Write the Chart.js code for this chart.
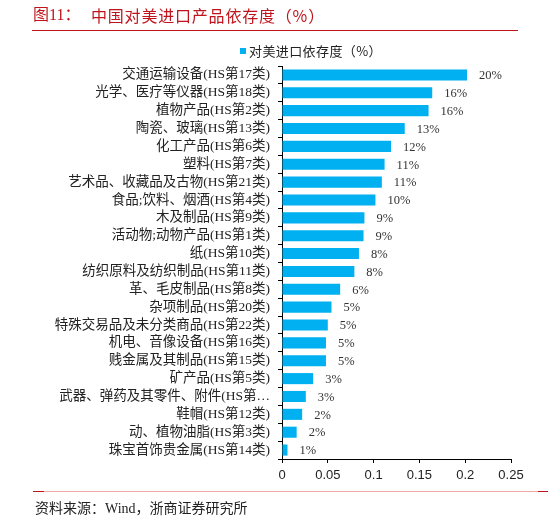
<!DOCTYPE html>
<html>
<head>
<meta charset="utf-8">
<script src="https://cdn.jsdelivr.net/npm/chart.js@4.4.0/dist/chart.umd.min.js"></script>
<style>
  html, body { margin:0; padding:0; background:#fff; }
  #wrap { position:relative; width:548px; height:522px; overflow:hidden; }
  canvas { position:absolute; left:0; top:0; }
  .abs { position:absolute; white-space:nowrap; }
  #t1 { left:33px; top:4px; font:16px "Liberation Serif","Noto Sans CJK SC"; color:#C0141C; line-height:22px; }
  #t2 { left:91px; top:4px; font:16px "Noto Sans CJK SC"; color:#C0141C; line-height:22px; letter-spacing:0.8px; }
  #topline { left:32px; top:30px; width:486px; height:1px; background:#C0141C; }
  #botline { left:33px; top:491px; width:515px; height:1px; background:#F0A8A8; }
  #botl1 { left:33px; top:491px; width:11px; height:1px; background:#C0141C; }
  #botl2 { left:538px; top:491px; width:10px; height:1px; background:#C0141C; }
  #src { left:35px; top:499px; font:14px "Liberation Serif","Noto Sans CJK SC"; color:#222; line-height:20px; }
  #lg { left:240px; top:42px; font:13px "Noto Sans CJK SC"; color:#222; line-height:18px; letter-spacing:0.4px; }
  #lgbox { display:inline-block; width:6px; height:6px; background:#00B0F0; margin-right:3px; vertical-align:middle; position:relative; top:-1px; }
</style>
</head>
<body>
<div id="wrap">
  <canvas id="c" width="548" height="522"></canvas>
  <div class="abs" id="t1">图11：</div>
  <div class="abs" id="t2">中国对美进口产品依存度（%）</div>
  <div class="abs" id="topline"></div>
  <div class="abs" id="lg"><span id="lgbox"></span>对美进口依存度（%）</div>
  <div class="abs" id="botline"></div>
  <div class="abs" id="botl1"></div>
  <div class="abs" id="botl2"></div>
  <div class="abs" id="src">资料来源：Wind，浙商证券研究所</div>
</div>
<script>
const categories = [
  "交通运输设备(HS第17类)",
  "光学、医疗等仪器(HS第18类)",
  "植物产品(HS第2类)",
  "陶瓷、玻璃(HS第13类)",
  "化工产品(HS第6类)",
  "塑料(HS第7类)",
  "艺术品、收藏品及古物(HS第21类)",
  "食品;饮料、烟酒(HS第4类)",
  "木及制品(HS第9类)",
  "活动物;动物产品(HS第1类)",
  "纸(HS第10类)",
  "纺织原料及纺织制品(HS第11类)",
  "革、毛皮制品(HS第8类)",
  "杂项制品(HS第20类)",
  "特殊交易品及未分类商品(HS第22类)",
  "机电、音像设备(HS第16类)",
  "贱金属及其制品(HS第15类)",
  "矿产品(HS第5类)",
  "武器、弹药及其零件、附件(HS第…",
  "鞋帽(HS第12类)",
  "动、植物油脂(HS第3类)",
  "珠宝首饰贵金属(HS第14类)"
];
const dependence = [
  0.202, 0.164, 0.160, 0.134, 0.119, 0.112, 0.109, 0.102, 0.090, 0.089, 0.084,
  0.079, 0.0635, 0.054, 0.050, 0.048, 0.048, 0.034, 0.026, 0.022, 0.016, 0.006
];
const xTicks = [0, 0.05, 0.1, 0.15, 0.2, 0.25];
const seriesName = "对美进口依存度（%）";

const labelPlugin = {
  id: 'barLabels',
  afterDatasetsDraw(chart) {
    const ctx = chart.ctx;
    const meta = chart.getDatasetMeta(0);
    ctx.save();
    ctx.font = '12.5px "Liberation Serif", serif';
    ctx.fillStyle = '#333';
    ctx.textAlign = 'left';
    ctx.textBaseline = 'middle';
    meta.data.forEach((bar, i) => {
      const v = chart.data.datasets[0].data[i];
      ctx.fillText(Math.round(v * 100) + '%', bar.x + 12, bar.y + 1);
    });
    ctx.restore();
  }
};

new Chart(document.getElementById('c'), {
  type: 'bar',
  data: {
    labels: categories,
    datasets: [{
      label: seriesName,
      data: dependence,
      backgroundColor: '#00B0F0',
      borderWidth: 0,
      barPercentage: 0.62,
      categoryPercentage: 1
    }]
  },
  options: {
    indexAxis: 'y',
    responsive: false,
    animation: false,
    devicePixelRatio: 1,
    layout: { padding: { left: 0, right: 37, top: 66, bottom: 37 } },
    plugins: { legend: { display: false }, tooltip: { enabled: false } },
    scales: {
      x: {
        min: 0, max: 0.25,
        afterBuildTicks(scale) { scale.ticks = xTicks.map(v => ({ value: v })); },
        afterFit(scale) { scale.height = 26; },
        ticks: {
          padding: 5,
          color: '#222',
          font: { family: '"Liberation Sans", Arial, sans-serif', size: 13 },
          callback: v => String(v)
        },
        grid: { drawOnChartArea: false, drawTicks: true, tickLength: 4, color: '#000' },
        border: { color: '#000', width: 1 }
      },
      y: {
        afterFit(scale) { scale.width = 282; },
        ticks: {
          padding: 8,
          color: '#222',
          autoSkip: false,
          font: { family: '"Liberation Serif", "Noto Sans CJK SC", serif', size: 13.5 }
        },
        grid: { offset: true, drawOnChartArea: false, drawTicks: true, tickLength: 4, color: '#000' },
        border: { color: '#000', width: 1 }
      }
    }
  },
  plugins: [labelPlugin]
});
</script>
</body>
</html>
